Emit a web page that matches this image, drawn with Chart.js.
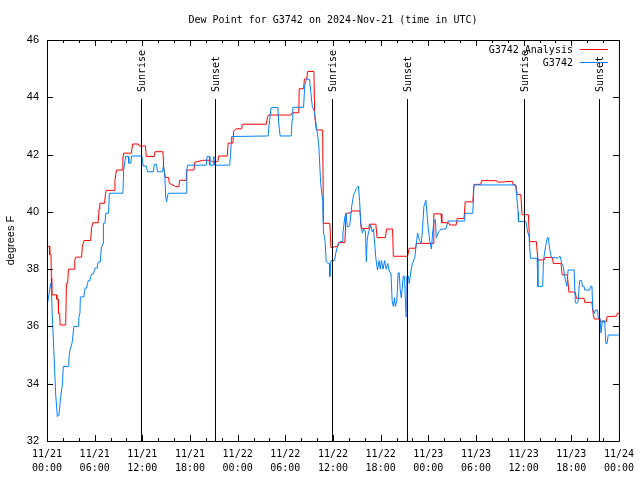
<!DOCTYPE html>
<html>
<head>
<meta charset="utf-8">
<title>Dew Point for G3742</title>
<script src="https://cdn.jsdelivr.net/npm/chart.js@4.4.1/dist/chart.umd.min.js"></script>
<style>
  html, body { margin: 0; padding: 0; background: #fff; }
</style>
</head>
<body>
<canvas id="chartId" width="640" height="480"></canvas>
<script>
// Dew point, station vs analysis. x = hours since 11/21 00:00 UTC

const titleText = 'Dew Point for G3742 on 2024-Nov-21 (time in UTC)';
const yAxisLabel = 'degrees F';
const seriesNames = ['G3742 Analysis', 'G3742'];
const seriesColors = ['#ff0000', '#0080ff'];

const dayLabels = ['11/21', '11/21', '11/21', '11/21', '11/22', '11/22', '11/22', '11/22', '11/23', '11/23', '11/23', '11/23', '11/24'];
const timeLabels = ['00:00', '06:00', '12:00', '18:00', '00:00', '06:00', '12:00', '18:00', '00:00', '06:00', '12:00', '18:00', '00:00'];

const sunHours = [11.85, 21.15, 35.9, 45.35, 60.0, 69.45];
const sunLabels = ['Sunrise', 'Sunset', 'Sunrise', 'Sunset', 'Sunrise', 'Sunset'];

// [hour, deg F]
const analysisPoints = [
  [0,38.8],[0.3,38.8],[0.35,38.5],[0.5,38.5],[0.55,37.7],[0.6,37.1],[1.2,37.1],[1.25,36.95],[1.4,36.95],[1.45,36.45],
  [1.6,36.45],[1.65,36.05],[2.35,36.05],[2.45,37.5],[2.6,37.5],[2.7,38.0],[3.45,38.0],[3.5,38.3],[3.6,38.42],[4.35,38.42],
  [4.45,38.8],[4.65,39.0],[5.5,39.0],[5.6,39.4],[5.75,39.62],[6.45,39.62],[6.55,40.1],[6.65,40.3],[7.25,40.3],[7.35,40.6],
  [7.45,40.75],[8.45,40.75],[8.55,41.1],[8.75,41.46],[9.45,41.46],[9.55,41.88],[9.65,42.05],[10.6,42.05],[10.8,42.37],[11.5,42.37],
  [11.6,42.3],[12.4,42.3],[12.5,41.93],[13.5,41.93],[13.6,42.1],[14.6,42.1],[14.7,41.5],[14.9,41.2],[15.3,41.2],[15.4,41.0],
  [16.2,40.88],[16.6,40.88],[16.7,41.1],[17.5,41.1],[17.55,41.46],[18.5,41.46],[18.6,41.73],[19.6,41.8],[20.6,41.8],[20.8,41.75],
  [21.5,41.75],[21.6,41.95],[22.7,41.95],[22.8,42.4],[23.4,42.4],[23.5,42.82],[23.8,42.9],[24.5,42.9],[24.6,43.06],[27.6,43.06],
  [27.75,43.3],[27.9,43.38],[30.7,43.38],[30.85,43.46],[31.7,43.46],[31.75,44.3],[32.3,44.3],[32.4,44.64],[32.7,44.64],[32.8,44.9],
  [33.6,44.9],[33.7,43.38],[33.9,42.86],[34.7,42.86],[34.8,39.6],[35.6,39.6],[35.75,38.75],[36.6,38.8],[36.7,38.93],[37.5,38.93],
  [37.65,39.95],[38.3,39.97],[38.4,40.03],[39.4,40.03],[39.55,39.42],[40.5,39.42],[40.6,39.57],[41.4,39.57],[41.55,39.1],[42.6,39.1],
  [42.75,39.4],[43.5,39.4],[43.6,38.45],[45.4,38.45],[45.6,38.73],[46.4,38.73],[46.5,38.9],[47.7,38.9],[48.6,38.9],[48.7,39.93],
  [49.6,39.93],[49.7,39.62],[50.6,39.62],[50.7,39.54],[51.5,39.54],[51.65,39.77],[52.5,39.77],[52.65,40.35],[53.6,40.35],[53.75,40.96],
  [54.6,40.96],[54.7,41.09],[56.6,41.09],[56.7,41.04],[57.6,41.04],[57.7,41.06],[58.6,41.06],[58.7,40.94],[59.0,40.94],[59.2,40.6],
  [59.65,40.6],[59.8,39.9],[60.6,39.9],[60.75,38.96],[61.6,38.96],[61.8,38.32],[62.6,38.32],[62.7,38.41],[63.6,38.41],[63.75,38.2],
  [64.7,38.2],[64.85,37.8],[65.5,37.8],[65.7,37.2],[66.5,37.2],[66.65,36.98],[67.6,36.98],[67.7,36.84],[68.6,36.84],[68.75,36.45],
  [68.9,36.26],[69.6,36.26],[69.7,36.16],[70.4,36.16],[70.5,36.34],[71.7,36.36],[71.8,36.46],[72,36.46]
];

const stationPoints = [
  [0,36.7],[0.3,37.2],[0.45,37.5],[0.55,37.3],[0.65,36.5],[0.85,35.2],[1.1,33.6],[1.3,32.85],[1.5,32.9],[1.75,33.6],
  [1.95,34.0],[2.05,34.6],[2.7,34.6],[2.75,34.85],[2.9,35.2],[3.0,35.2],[3.1,35.35],[3.2,35.5],[3.3,35.77],[3.4,36.0],
  [3.95,36.0],[4.0,36.3],[4.15,36.47],[4.2,37.03],[4.65,37.03],[4.7,37.2],[4.8,37.34],[5.0,37.34],[5.1,37.5],[5.2,37.6],
  [5.4,37.6],[5.5,37.75],[5.65,37.83],[5.85,37.83],[5.95,37.95],[6.05,38.04],[6.3,38.04],[6.35,38.15],[6.45,38.25],[6.7,38.25],
  [6.85,38.77],[7.05,38.9],[7.1,39.6],[7.3,39.6],[7.4,39.95],[7.75,39.95],[7.85,40.65],[9.55,40.65],[9.65,41.46],[9.9,41.93],
  [10.25,41.93],[10.3,41.7],[10.55,41.7],[10.65,41.95],[11.95,41.95],[12.1,41.6],[12.5,41.6],[12.65,41.4],[13.4,41.4],[13.5,41.66],
  [13.8,41.66],[13.9,41.4],[14.55,41.4],[14.65,41.6],[14.8,41.4],[14.95,40.5],[15.05,40.35],[15.25,40.65],[17.55,40.65],[17.6,41.46],
  [17.7,41.63],[20.05,41.63],[20.15,41.93],[20.45,41.93],[20.5,41.63],[20.9,41.63],[21.0,41.93],[21.1,41.63],[23.0,41.63],[23.1,42.0],
  [23.25,42.63],[27.85,42.65],[27.95,43.0],[28.2,43.63],[29.05,43.65],[29.2,43.0],[29.35,42.65],[30.75,42.65],[30.85,43.2],[30.95,43.65],
  [32.3,43.65],[32.45,44.43],[32.65,44.63],[33.05,44.63],[33.2,44.2],[33.4,43.67],[33.65,43.5],[33.9,43.0],[34.2,42.4],[34.45,41.0],
  [34.7,40.4],[34.8,39.3],[35.0,39.0],[35.15,38.26],[35.4,38.2],[35.55,38.2],[35.6,37.74],[35.75,38.3],[36.2,38.3],[36.35,38.56],
  [36.6,38.82],[36.9,38.96],[37.15,38.96],[37.25,39.26],[37.5,39.83],[37.65,39.95],[37.8,39.48],[38.1,39.5],[38.35,40.18],[38.6,40.6],
  [38.95,40.82],[39.2,40.9],[39.35,40.4],[39.5,39.6],[39.7,39.26],[39.85,39.4],[40.1,39.3],[40.2,38.26],[40.3,39.0],[40.45,39.26],
  [40.75,39.54],[40.95,39.3],[41.1,39.4],[41.4,38.38],[41.6,37.97],[41.8,38.3],[41.95,38.0],[42.1,38.3],[42.3,38.0],[42.5,38.3],
  [42.7,38.0],[42.9,38.2],[43.1,37.9],[43.3,37.87],[43.45,36.9],[43.6,36.7],[43.75,37.0],[43.85,36.7],[44.05,36.9],[44.2,37.87],
  [44.35,37.87],[44.45,37.3],[44.6,37.0],[44.85,37.75],[45.0,37.75],[45.2,36.34],[45.3,37.75],[45.5,37.75],[45.6,37.5],[45.8,37.9],
  [46.0,38.2],[46.3,38.4],[46.45,38.78],[46.65,39.26],[46.9,39.0],[47.1,38.9],[47.25,39.3],[47.45,40.2],[47.7,40.4],[47.85,39.9],
  [48.0,39.4],[48.2,38.96],[48.4,38.7],[48.55,39.3],[48.75,39.72],[48.9,39.72],[49.0,39.1],[49.3,39.3],[49.6,39.4],[50.2,39.4],
  [50.5,39.68],[52.5,39.68],[52.6,39.95],[53.6,39.95],[53.75,40.94],[59.0,40.94],[59.1,40.65],[59.3,40.0],[59.35,39.66],[60.3,39.66],
  [60.5,39.3],[60.7,39.13],[60.85,38.38],[61.7,38.38],[61.8,37.4],[62.4,37.4],[62.5,38.3],[62.75,38.78],[63.0,39.1],[63.1,39.1],
  [63.3,38.67],[63.5,38.4],[64.0,38.4],[64.3,38.38],[64.6,38.45],[64.8,38.2],[65.0,38.1],[65.15,37.74],[65.45,37.4],[65.6,37.97],
  [66.35,37.97],[66.5,36.9],[66.6,36.8],[66.85,36.86],[67.05,37.6],[67.3,37.6],[67.4,37.4],[67.6,37.4],[67.7,37.27],[68.3,37.27],
  [68.45,37.4],[68.6,37.4],[68.7,36.6],[68.9,36.45],[69.0,36.57],[69.3,36.57],[69.4,36.3],[69.6,36.3],[69.75,35.77],[69.9,36.2],
  [70.2,36.2],[70.35,35.4],[70.5,35.4],[70.65,35.7],[72,35.7]
];

const monoFont = 'DejaVu Sans Mono';
const sansFont = 'Liberation Sans';

const toXY = pts => pts.map(p => ({ x: p[0], y: p[1] }));

// box, inward ticks, sunrise/sunset markers and key, gnuplot style
const framePlugin = {
  id: 'frame',
  afterDatasetsDraw(chart) {
    const ctx = chart.ctx;
    const { left, right, top, bottom } = chart.chartArea;
    const xs = chart.scales.x, ys = chart.scales.y;

    ctx.save();
    ctx.strokeStyle = '#000';
    ctx.lineWidth = 1;

    // sunrise / sunset
    const lineTop = top + Math.round((bottom - top) * 0.147);
    ctx.font = '10px "' + monoFont + '"';
    ctx.fillStyle = '#000';
    sunHours.forEach((h, i) => {
      const px = Math.round(xs.getPixelForValue(h)) + 0.5;
      ctx.beginPath();
      ctx.moveTo(px, lineTop);
      ctx.lineTo(px, bottom);
      ctx.stroke();
      ctx.save();
      ctx.translate(px + 1, lineTop - 7);
      ctx.rotate(-Math.PI / 2);
      ctx.textAlign = 'left';
      ctx.textBaseline = 'middle';
      ctx.fillText(sunLabels[i], 0, 0);
      ctx.restore();
    });

    // frame
    ctx.beginPath();
    ctx.rect(left + 0.5, top + 0.5, right - left, bottom - top);
    ctx.stroke();

    // x ticks every 2 h, long ones every 6 h
    ctx.beginPath();
    for (let h = xs.min; h <= xs.max; h += 2) {
      const px = Math.round(xs.getPixelForValue(h)) + 0.5;
      const len = h % 6 === 0 ? 6 : 3;
      ctx.moveTo(px, bottom); ctx.lineTo(px, bottom - len);
      ctx.moveTo(px, top); ctx.lineTo(px, top + len);
    }
    for (let v = ys.min; v <= ys.max; v += 2) {
      const py = Math.round(ys.getPixelForValue(v)) + 0.5;
      ctx.moveTo(left, py); ctx.lineTo(left + 6, py);
      ctx.moveTo(right, py); ctx.lineTo(right - 6, py);
    }
    ctx.stroke();

    // key, top right
    ctx.textAlign = 'right';
    ctx.textBaseline = 'middle';
    seriesNames.forEach((name, i) => {
      const y = top + 10 + i * 13;
      ctx.fillStyle = '#000';
      ctx.fillText(name, right - 46, y);
      ctx.strokeStyle = seriesColors[i];
      ctx.beginPath();
      ctx.moveTo(right - 39, y - 0.5);
      ctx.lineTo(right - 11, y - 0.5);
      ctx.stroke();
    });
    ctx.restore();
  }
};

const chrt = document.getElementById('chartId').getContext('2d');
const dewChart = new Chart(chrt, {
  type: 'line',
  data: {
    datasets: [
      {
        label: seriesNames[0],
        data: toXY(analysisPoints),
        borderColor: seriesColors[0],
        borderWidth: 1,
        pointRadius: 0,
        tension: 0,
        order: 1
      },
      {
        label: seriesNames[1],
        data: toXY(stationPoints),
        borderColor: seriesColors[1],
        borderWidth: 1,
        pointRadius: 0,
        tension: 0,
        order: 0
      }
    ]
  },
  options: {
    responsive: false,
    animation: false,
    layout: { padding: { left: 0, right: 20, top: 0, bottom: 0 } },
    plugins: {
      legend: { display: false },
      tooltip: { enabled: false },
      title: {
        display: true,
        text: titleText,
        fullSize: false,
        color: '#000',
        font: { family: monoFont, size: 10, weight: 'normal', lineHeight: 1.2 },
        padding: { top: 14, bottom: 14 }
      }
    },
    scales: {
      x: {
        type: 'linear',
        min: 0,
        max: 72,
        grid: { display: false, drawTicks: false },
        border: { display: false },
        ticks: {
          stepSize: 6,
          autoSkip: false,
          maxRotation: 0,
          padding: 6,
          color: '#000',
          font: { family: monoFont, size: 10, lineHeight: 1.4 },
          callback: (v, i) => [dayLabels[i], timeLabels[i]]
        },
        afterFit: scale => { scale.height = 39; }
      },
      y: {
        min: 32,
        max: 46,
        grid: { display: false, drawTicks: false },
        border: { display: false },
        ticks: {
          stepSize: 2,
          padding: 8,
          color: '#000',
          font: { family: sansFont, size: 11 }
        },
        title: {
          display: true,
          text: yAxisLabel,
          color: '#000',
          font: { family: sansFont, size: 11 },
          padding: { top: 4, bottom: 0 }
        },
        afterFit: scale => { scale.width = 47; }
      }
    }
  },
  plugins: [framePlugin]
});
</script>
</body>
</html>
